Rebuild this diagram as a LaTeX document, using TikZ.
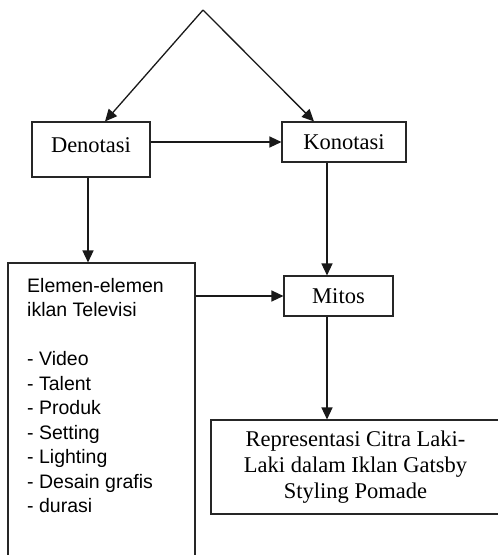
\documentclass[tikz,border=0pt]{standalone}
\usepackage{fontspec}
\setmainfont{Liberation Serif}
\newfontfamily\listfont{Liberation Sans}
\usetikzlibrary{arrows.meta,positioning,calc}
\tikzset{
  box/.style={draw=black!85, line width=1.1pt, rectangle, inner sep=0pt, font=\fontsize{22.5}{26}\selectfont, align=center},
  arr/.style={draw=black!90, line width=1.3pt, -{Triangle[length=12pt,width=11pt]}},
}
\begin{document}
\begin{tikzpicture}[x=1pt,y=-1pt]
\useasboundingbox (0,0) rectangle (498,555);
\clip (0,0) rectangle (498,555);
\fill[white] (0,0) rectangle (498,555);
\coordinate (apex) at (203,10);
\coordinate (tipD) at (105,0);
\coordinate (tipK) at (314,0);
\coordinate (colR) at (327,0);
\coordinate (colL) at (88,0);
\node[box, minimum width=118pt, minimum height=55pt, text depth=9pt] (den) at (91,149.5) {Denotasi};
\node[box, minimum width=124pt, minimum height=40pt] (kon) at (344,142) {Konotasi};
\node[box, minimum width=187pt, minimum height=312pt] (elem) at (101.5,419) {};
\node[anchor=north west, inner sep=0pt, align=left, font=\listfont\fontsize{19.5}{24.5}\selectfont] (elemtext) at (27,278)
  {Elemen-elemen\\iklan Televisi\\[24.5pt]- Video\\- Talent\\- Produk\\- Setting\\- Lighting\\- Desain grafis\\- durasi};
\node[box, minimum width=109pt, minimum height=40pt] (mitos) at (338.5,296) {Mitos};
\node[box, minimum width=289pt, minimum height=94pt] (rep) at (355.5,467) {Representasi Citra Laki-\\Laki dalam Iklan Gatsby\\Styling Pomade};
\draw[arr] (apex) -- (den.north -| tipD);
\draw[arr] (apex) -- (kon.north -| tipK);
\draw[arr] (den.east |- kon.west) -- (kon.west);
\draw[arr] (den.south -| colL) -- (elem.north -| colL);
\draw[arr] (kon.south -| colR) -- (mitos.north -| colR);
\draw[arr] (elem.east |- mitos.west) -- (mitos.west);
\draw[arr] (mitos.south -| colR) -- (rep.north -| colR);
\end{tikzpicture}
\end{document}
